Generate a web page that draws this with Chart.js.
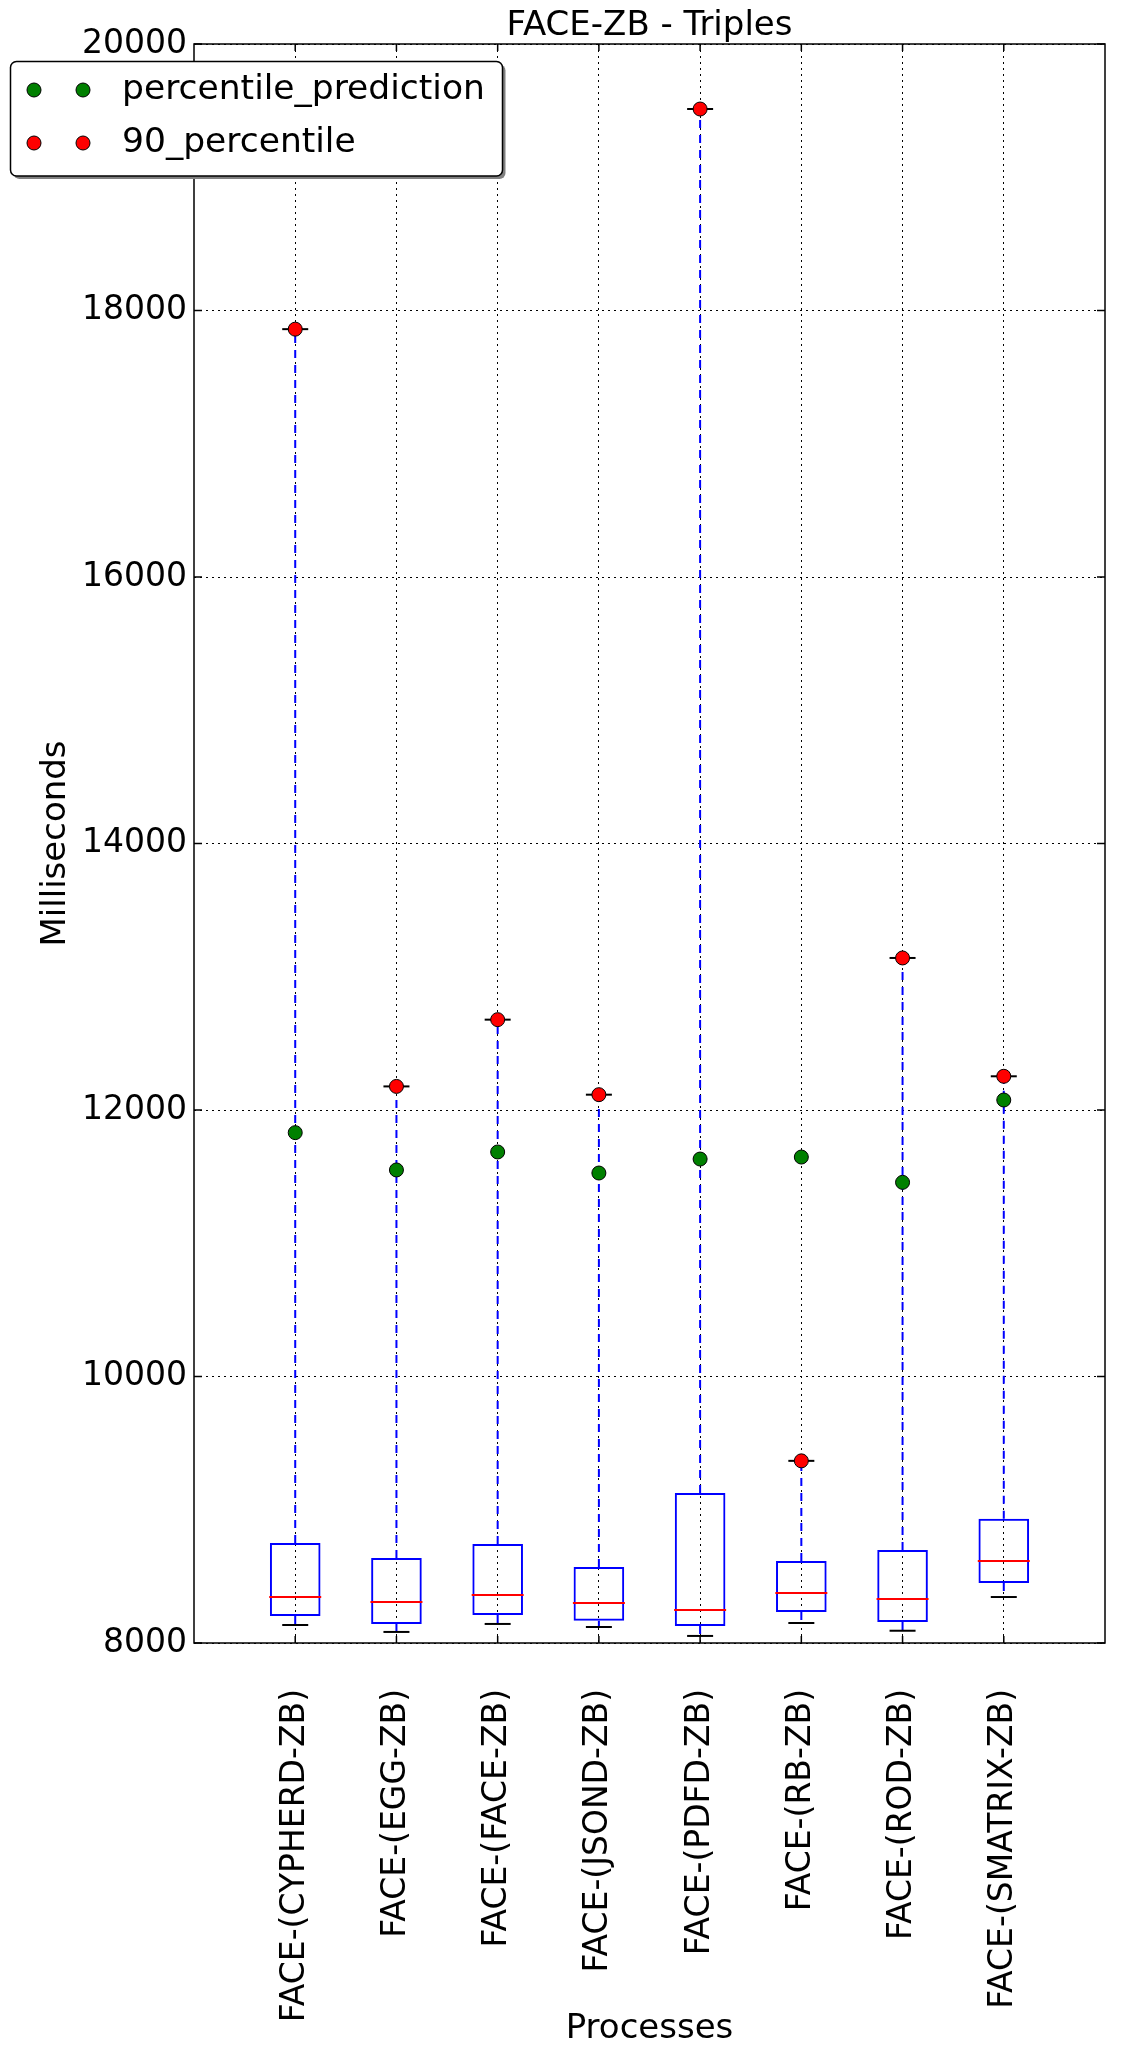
<!DOCTYPE html>
<html>
<head>
<meta charset="utf-8">
<script src="https://cdn.jsdelivr.net/npm/chart.js@4/dist/chart.umd.min.js"></script>
<style>
html,body{margin:0;padding:0;background:#fff;}
canvas{display:block;}
</style>
</head>
<body>
<canvas id="c" width="1133" height="2055"></canvas>
<script>
// ---- data ----
const categories = ['FACE-(CYPHERD-ZB)', 'FACE-(EGG-ZB)', 'FACE-(FACE-ZB)', 'FACE-(JSOND-ZB)',
                    'FACE-(PDFD-ZB)', 'FACE-(RB-ZB)', 'FACE-(ROD-ZB)', 'FACE-(SMATRIX-ZB)'];
const positions   = [1, 2, 3, 4, 5, 6, 7, 8];
const whiskerLow  = [8135, 8083, 8143, 8120, 8053, 8150, 8092, 8345];
const q1          = [8203, 8143, 8210, 8167, 8128, 8233, 8158, 8451];
const median      = [8345, 8308, 8360, 8300, 8248, 8375, 8330, 8616];
const q3          = [8751, 8638, 8743, 8571, 9126, 8616, 8698, 8933];
const whiskerHigh = [17860, 12177, 12678, 12115, 19512, 9367, 13141, 12253];
const p90         = [17860, 12177, 12678, 12115, 19512, 9367, 13141, 12253];
const prediction  = [11830, 11550, 11685, 11527, 11632, 11647, 11457, 12075];
const yTicks      = [8000, 10000, 12000, 14000, 16000, 18000, 20000];
const xLimits     = [0, 9];

const FONT = 'DejaVu Sans';

function pts(vals) { return positions.map((x, i) => ({x: x, y: vals[i]})); }
function segs(a, b) {
  const out = [];
  positions.forEach((x, i) => { out.push({x: x, y: a[i]}, {x: x, y: b[i]}, {x: x, y: null}); });
  return out;
}

const framePlugin = {
  id: 'mplFrame',
  afterDraw(chart) {
    const {ctx, chartArea: a, scales: {x, y}} = chart;
    ctx.save();
    ctx.strokeStyle = '#000';
    ctx.lineWidth = 1.5;
    ctx.strokeRect(a.left, a.top, a.right - a.left, a.bottom - a.top);
    ctx.beginPath();
    x.ticks.forEach(t => {
      const px = x.getPixelForValue(t.value);
      ctx.moveTo(px, a.bottom); ctx.lineTo(px, a.bottom - 7);
      ctx.moveTo(px, a.top); ctx.lineTo(px, a.top + 7);
    });
    y.ticks.forEach(t => {
      const py = y.getPixelForValue(t.value);
      ctx.moveTo(a.left, py); ctx.lineTo(a.left + 8, py);
      ctx.moveTo(a.right, py); ctx.lineTo(a.right - 8, py);
    });
    ctx.stroke();
    ctx.restore();
  }
};

function roundRect(ctx, x, y, w, h, r) {
  ctx.beginPath();
  ctx.moveTo(x + r, y);
  ctx.lineTo(x + w - r, y); ctx.arcTo(x + w, y, x + w, y + r, r);
  ctx.lineTo(x + w, y + h - r); ctx.arcTo(x + w, y + h, x + w - r, y + h, r);
  ctx.lineTo(x + r, y + h); ctx.arcTo(x, y + h, x, y + h - r, r);
  ctx.lineTo(x, y + r); ctx.arcTo(x, y, x + r, y, r);
  ctx.closePath();
}

const legendPlugin = {
  id: 'mplLegend',
  afterDraw(chart) {
    const ctx = chart.ctx;
    const items = chart.data.datasets.filter(d => d.inLegend);
    const bx = 10.5, by = 61.5, bw = 492, bh = 114.5;
    ctx.save();
    ctx.fillStyle = '#808080';
    roundRect(ctx, bx + 3, by + 3, bw, bh, 6); ctx.fill();
    ctx.fillStyle = '#fff';
    roundRect(ctx, bx, by, bw, bh, 6); ctx.fill();
    ctx.strokeStyle = '#000'; ctx.lineWidth = 1.5;
    ctx.stroke();
    ctx.font = '34.5px "' + FONT + '"';
    ctx.textBaseline = 'middle';
    ctx.textAlign = 'left';
    items.forEach((d, i) => {
      const cy = 90 + i * 53;
      [34, 83].forEach(cx => {
        ctx.beginPath();
        ctx.arc(cx, cy, d.pointRadius, 0, Math.PI * 2);
        ctx.fillStyle = d.pointBackgroundColor; ctx.fill();
        ctx.lineWidth = 1; ctx.strokeStyle = '#000'; ctx.stroke();
      });
      ctx.fillStyle = '#000';
      ctx.fillText(d.label, 122, cy);
    });
    ctx.restore();
  }
};

const gridCommon = {color: '#000', lineWidth: 1, drawTicks: false, offset: false};

new Chart(document.getElementById('c'), {
  type: 'bar',
  data: {
    datasets: [
      {type: 'line', label: 'percentile_prediction', inLegend: true, data: pts(prediction), showLine: false,
       pointRadius: 7, pointBackgroundColor: '#008000', pointBorderColor: '#000', pointBorderWidth: 1, order: 0},
      {type: 'line', label: '90_percentile', inLegend: true, data: pts(p90), showLine: false,
       pointRadius: 7, pointBackgroundColor: '#ff0000', pointBorderColor: '#000', pointBorderWidth: 1, order: 1},
      {type: 'line', label: 'caps', data: pts(whiskerHigh).concat(pts(whiskerLow)), showLine: false,
       pointStyle: 'line', pointRadius: 13, pointBorderColor: '#000', pointBorderWidth: 2, order: 2},
      {type: 'line', label: 'medians', data: pts(median), showLine: false,
       pointStyle: 'line', pointRadius: 26, pointBorderColor: '#ff0000', pointBorderWidth: 2, order: 3},
      {type: 'line', label: 'whiskers', data: segs(q3, whiskerHigh).concat(segs(q1, whiskerLow)),
       borderColor: '#0000ff', borderWidth: 2, borderDash: [8, 7], pointRadius: 0, spanGaps: false, order: 4},
      {type: 'bar', label: 'boxes', data: positions.map((x, i) => ({x: x, y: [q1[i], q3[i]]})),
       backgroundColor: 'rgba(0,0,0,0)', borderColor: '#0000ff', borderWidth: 2, borderSkipped: false,
       barPercentage: 0.5, categoryPercentage: 1, order: 5}
    ]
  },
  options: {
    responsive: false,
    animation: false,
    events: [],
    devicePixelRatio: 1,
    layout: {padding: {left: 0, right: 8, top: 0, bottom: 0}},
    plugins: {
      legend: {display: false},
      tooltip: {enabled: false},
      title: {display: true, text: 'FACE-ZB - Triples', color: '#000', fullSize: false,
              font: {family: FONT, size: 34, weight: 'normal', lineHeight: 1},
              padding: {top: 9, bottom: 1}}
    },
    scales: {
      x: {
        type: 'linear', position: 'bottom', min: xLimits[0], max: xLimits[1], offset: false, z: 1,
        grid: gridCommon,
        border: {display: false, dash: [2, 4]},
        afterBuildTicks: s => { s.ticks = positions.map(v => ({value: v})); },
        ticks: {autoSkip: false, maxRotation: 90, minRotation: 90, padding: 46, color: '#000',
                font: {family: FONT, size: 33}, callback: (v, i) => categories[i]},
        title: {display: true, text: 'Processes', color: '#000', font: {family: FONT, size: 34},
                padding: {top: 0, bottom: 5}},
        afterFit: s => { s.height = 412; }
      },
      y: {
        type: 'linear', min: yTicks[0], max: yTicks[yTicks.length - 1], z: 1,
        grid: gridCommon,
        border: {display: false, dash: [2, 4]},
        afterBuildTicks: s => { s.ticks = yTicks.map(v => ({value: v})); },
        ticks: {padding: 7, color: '#000', font: {family: FONT, size: 33}, callback: v => String(v)},
        title: {display: true, text: 'Milliseconds', color: '#000', font: {family: FONT, size: 34},
                padding: {top: 36, bottom: 0}},
        afterFit: s => { s.width = 194; }
      }
    }
  },
  plugins: [framePlugin, legendPlugin]
});
</script>
</body>
</html>
